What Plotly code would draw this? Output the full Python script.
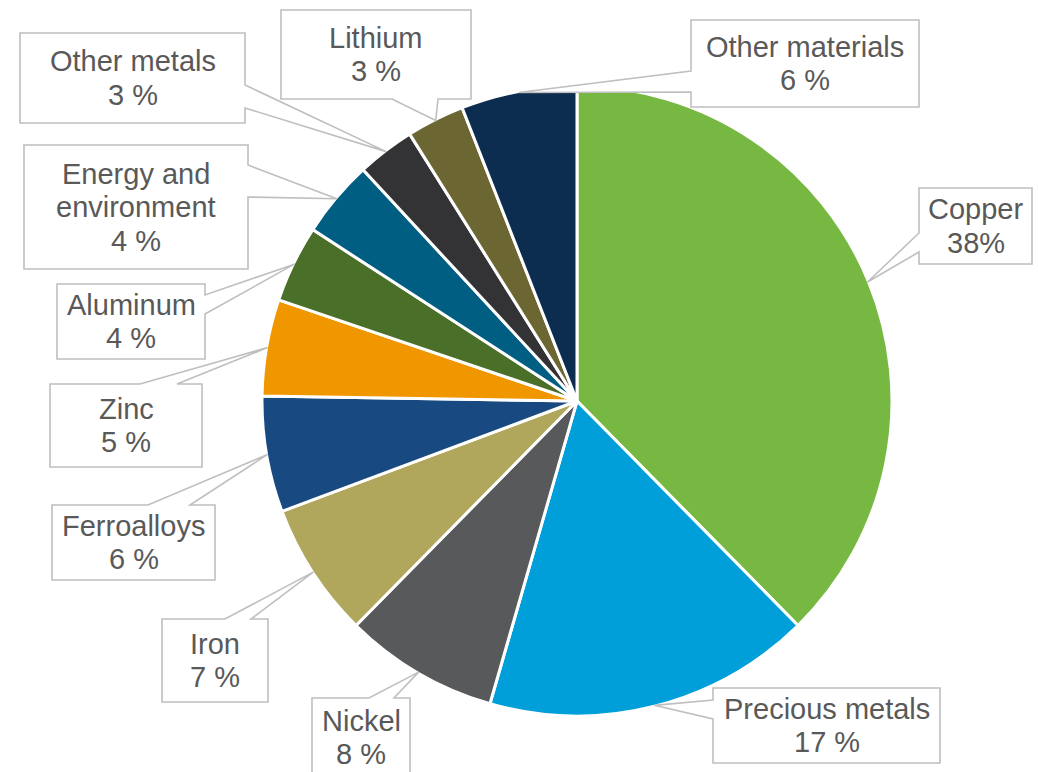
import math
import plotly.graph_objects as go

# Share of spending by commodity, clockwise from 12 o'clock
categories = ["Copper", "Precious metals", "Nickel", "Iron", "Ferroalloys", "Zinc",
              "Aluminum", "Energy and environment", "Other metals", "Lithium",
              "Other materials"]
shares = [38, 17, 8, 7, 6, 5, 4, 4, 3, 3, 6]
share_labels = ["38%", "17 %", "8 %", "7 %", "6 %", "5 %", "4 %", "4 %", "3 %", "3 %", "6 %"]
label_lines = [["Copper"], ["Precious metals"], ["Nickel"], ["Iron"], ["Ferroalloys"], ["Zinc"],
               ["Aluminum"], ["Energy and", "environment"], ["Other metals"], ["Lithium"],
               ["Other materials"]]
colors = ["#77B843", "#009FDA", "#58595B", "#B0A75C", "#184A81", "#F09700",
          "#4A6F28", "#005E82", "#333335", "#6C6633", "#0C2D4F"]

W, H = 1038, 772
CX, CY, R = 577, 401, 312          # pie centre and radius in pixels
DOM = R + 3                        # half-size of the pie domain
TEXT = "#595959"
BORDER = "#BFBFBF"
FONT = "Liberation Sans, Arial, sans-serif"
FS = 29
LINE = 33.5

# Callout boxes: (x0, y0, x1, y1), side carrying the pointer, pointer base span
callouts = [
    ((919, 188, 1032, 264), "left", (233, 252)),
    ((713, 688, 940, 763), "left", (700, 719)),
    ((312, 698, 410, 777), "top", (369, 394)),
    ((162, 619, 268, 702), "top", (225, 251)),
    ((52, 505, 215, 580), "top", (148, 190)),
    ((50, 384, 202, 467), "top", (140, 177)),
    ((57, 284, 205, 359), "right", (295, 314)),
    ((24, 145, 248, 269), "right", (165, 197)),
    ((20, 33, 245, 123), "right", (85, 108)),
    ((281, 10, 471, 99), "bottom", (392, 438)),
    ((691, 20, 919, 107), "left", (71, 92)),
]


def px(x, y):
    return x / W, 1 - y / H


def callout_path(box, side, span, tip):
    x0, y0, x1, y1 = box
    a, b = span
    pts = [(x0, y0)]
    if side == "top":
        pts += [(a, y0), tip, (b, y0)]
    pts.append((x1, y0))
    if side == "right":
        pts += [(x1, a), tip, (x1, b)]
    pts.append((x1, y1))
    if side == "bottom":
        pts += [(b, y1), tip, (a, y1)]
    pts.append((x0, y1))
    if side == "left":
        pts += [(x0, b), tip, (x0, a)]
    out = []
    for i, (x, y) in enumerate(pts):
        u, v = px(x, y)
        out.append(("M" if i == 0 else "L") + f"{u:.5f},{v:.5f}")
    return " ".join(out) + " Z"


fig = go.Figure(go.Pie(
    labels=categories,
    values=shares,
    sort=False,
    direction="clockwise",
    rotation=0,
    marker=dict(colors=colors, line=dict(color="white", width=3)),
    textinfo="none",
    hoverinfo="label+value",
    showlegend=False,
    domain=dict(x=[(CX - DOM) / W, (CX + DOM) / W], y=[1 - (CY + DOM) / H, 1 - (CY - DOM) / H]),
))

total = sum(shares)
cum = 0.0
shapes, annotations = [], []
for i, v in enumerate(shares):
    mid = (cum + v / 2) / total * 2 * math.pi
    cum += v
    tip = (CX + (R + 2) * math.sin(mid), CY - (R + 2) * math.cos(mid))
    box, side, span = callouts[i]
    shapes.append(dict(type="path", xref="paper", yref="paper",
                       path=callout_path(box, side, span, tip),
                       fillcolor="white", line=dict(color=BORDER, width=1.6),
                       layer="above"))
    lines = label_lines[i] + [share_labels[i]]
    bx = (box[0] + box[2]) / 2
    by = (box[1] + box[3]) / 2
    n = len(lines)
    for k, txt in enumerate(lines):
        ly = by + (k - (n - 1) / 2) * LINE
        u, v2 = px(bx, ly)
        annotations.append(dict(x=u, y=v2, xref="paper", yref="paper",
                                text=txt, showarrow=False,
                                xanchor="center", yanchor="middle",
                                font=dict(family=FONT, size=FS, color=TEXT)))

fig.update_layout(
    width=W, height=H,
    margin=dict(l=0, r=0, t=0, b=0),
    paper_bgcolor="white",
    plot_bgcolor="white",
    shapes=shapes,
    annotations=annotations,
)

fig.write_html("out.html")
